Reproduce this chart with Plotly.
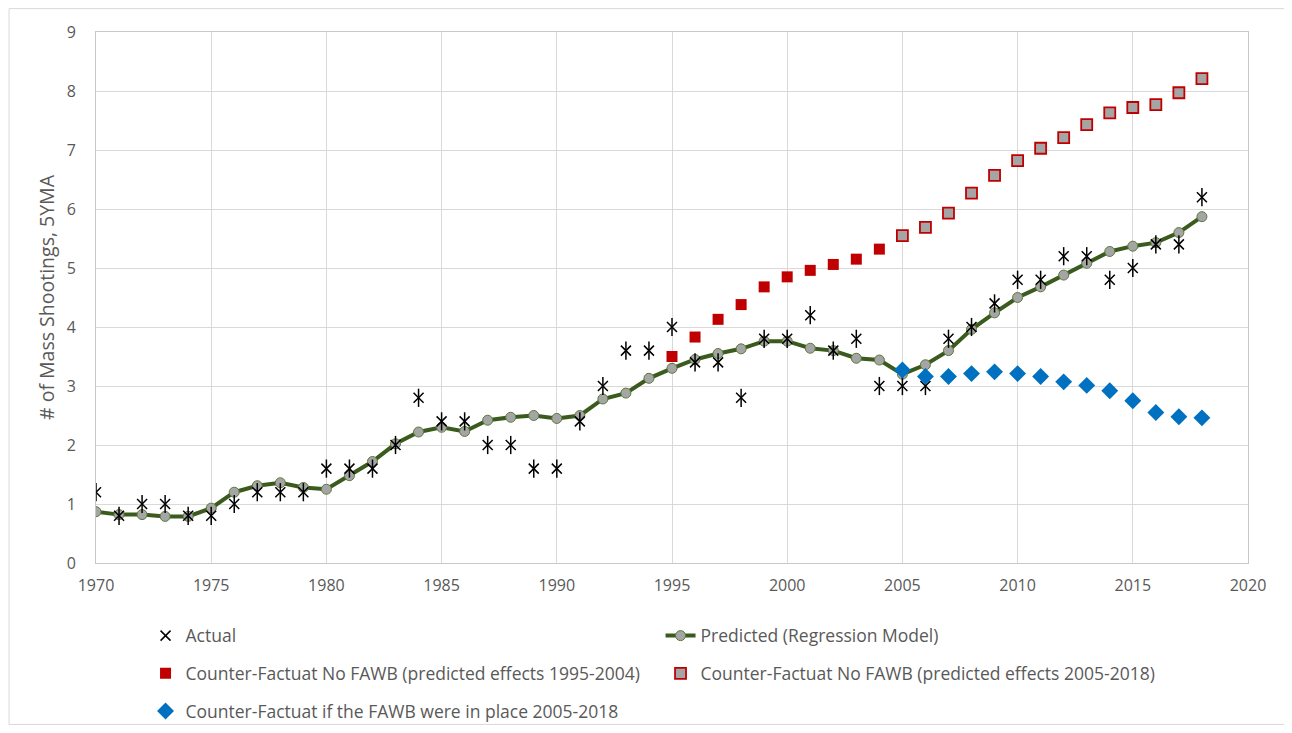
import plotly.graph_objects as go

years = list(range(1970, 2019))
actual = [1.2, 0.8, 1.0, 1.0, 0.8, 0.8, 1.0, 1.2, 1.2, 1.2,
          1.6, 1.6, 1.6, 2.0, 2.8, 2.4, 2.4, 2.0, 2.0, 1.6,
          1.6, 2.4, 3.0, 3.6, 3.6, 4.0, 3.4, 3.4, 2.8, 3.8,
          3.8, 4.2, 3.6, 3.8, 3.0, 3.0, 3.0, 3.8, 4.0, 4.4,
          4.8, 4.8, 5.2, 5.2, 4.8, 5.0, 5.4, 5.4, 6.2]
predicted = [0.87, 0.82, 0.82, 0.79, 0.79, 0.93, 1.20, 1.31, 1.36, 1.28,
             1.25, 1.48, 1.72, 2.02, 2.22, 2.30, 2.23, 2.42, 2.47, 2.50,
             2.45, 2.50, 2.78, 2.88, 3.13, 3.30, 3.45, 3.55, 3.63, 3.76,
             3.76, 3.64, 3.60, 3.47, 3.44, 3.20, 3.36, 3.60, 3.96, 4.24,
             4.50, 4.68, 4.88, 5.08, 5.28, 5.37, 5.43, 5.60, 5.87]

years_cf1 = list(range(1995, 2005))
cf_no_fawb_1 = [3.50, 3.83, 4.13, 4.38, 4.68, 4.85, 4.96, 5.06, 5.15, 5.32]

years_cf2 = list(range(2005, 2019))
cf_no_fawb_2 = [5.55, 5.69, 5.93, 6.27, 6.57, 6.82, 7.03, 7.21, 7.43, 7.63,
                7.72, 7.77, 7.97, 8.21]
cf_fawb = [3.27, 3.16, 3.16, 3.21, 3.24, 3.21, 3.16, 3.07, 3.01, 2.92,
           2.75, 2.55, 2.48, 2.46]

names = ["Actual", "Predicted (Regression Model)",
         "Counter-Factuat No FAWB (predicted effects 1995-2004)",
         "Counter-Factuat No FAWB (predicted effects 2005-2018)",
         "Counter-Factuat if the FAWB were in place 2005-2018"]

GREEN = "#3a5a1e"
GRAY = "#a5a5a5"
RED = "#c00000"
BLUE = "#0070c0"
TXT = "#595959"
GRID = "#d9d9d9"
FONT = "Open Sans"

fig = go.Figure()

fig.add_trace(go.Scatter(
    x=years, y=predicted, mode="lines+markers", name=names[1],
    line=dict(color=GREEN, width=4),
    marker=dict(symbol="circle", size=10, color=GRAY, line=dict(color="#5a7a3a", width=1)),
    legend="legend", legendrank=2))

fig.add_trace(go.Scatter(
    x=years, y=actual, mode="markers", name=names[0],
    marker=dict(symbol="x-thin-open", size=10, color="black", line=dict(color="black", width=1.5)),
    legend="legend", legendrank=1))
fig.add_trace(go.Scatter(
    x=years, y=actual, mode="markers", name=names[0], showlegend=False,
    marker=dict(symbol="line-ns-open", size=13, color="black", line=dict(color="black", width=1.5)),
    hoverinfo="skip"))

fig.add_trace(go.Scatter(
    x=years_cf1, y=cf_no_fawb_1, mode="markers", name=names[2],
    marker=dict(symbol="square", size=11, color=RED, line=dict(color=RED, width=0)),
    legend="legend2", legendrank=1))
fig.add_trace(go.Scatter(
    x=years_cf2, y=cf_no_fawb_2, mode="markers", name=names[3],
    marker=dict(symbol="square", size=11, color=GRAY, line=dict(color=RED, width=1.8)),
    legend="legend2", legendrank=2))
fig.add_trace(go.Scatter(
    x=years_cf2, y=cf_fawb, mode="markers", name=names[4],
    marker=dict(symbol="diamond", size=13, color=BLUE, line=dict(width=0)),
    legend="legend3", legendrank=1))

leg_common = dict(orientation="h", xanchor="left", yanchor="middle",
                  font=dict(family=FONT, size=17.5, color=TXT),
                  bgcolor="rgba(0,0,0,0)", entrywidth=470, entrywidthmode="pixels",
                  itemwidth=30, x=0.043)

fig.update_layout(
    width=1292, height=733,
    margin=dict(l=88, r=52, t=24, b=174),
    paper_bgcolor="white", plot_bgcolor="white",
    font=dict(family=FONT, color=TXT),
    showlegend=True,
    legend=dict(**leg_common, y=-0.137),
    legend2=dict(**leg_common, y=-0.208),
    legend3=dict(**leg_common, y=-0.279),
    xaxis=dict(range=[1970, 2020], tick0=1970, dtick=5, showgrid=True, gridcolor=GRID,
               gridwidth=1, showline=True, linecolor="#c8c8c8", linewidth=1, mirror=True,
               ticks="", zeroline=False, tickfont=dict(family=FONT, size=16, color=TXT),
               ticklabelstandoff=8),
    yaxis=dict(range=[0, 9], dtick=1, showgrid=True, gridcolor=GRID, gridwidth=1,
               showline=True, linecolor="#c8c8c8", linewidth=1, mirror=True,
               ticks="", zeroline=False, tickfont=dict(family=FONT, size=16, color=TXT),
               ticklabelstandoff=16,
               title=dict(text="# of Mass Shootings, 5YMA", font=dict(family=FONT, size=19.5, color=TXT),
                          standoff=6)),
    shapes=[dict(type="rect", xref="paper", yref="paper",
                 x0=-0.0755, x1=1.04, y0=-0.304, y1=1.044,
                 line=dict(color=GRID, width=1), fillcolor="rgba(0,0,0,0)", layer="below")],
)

fig.write_html("out.html")
